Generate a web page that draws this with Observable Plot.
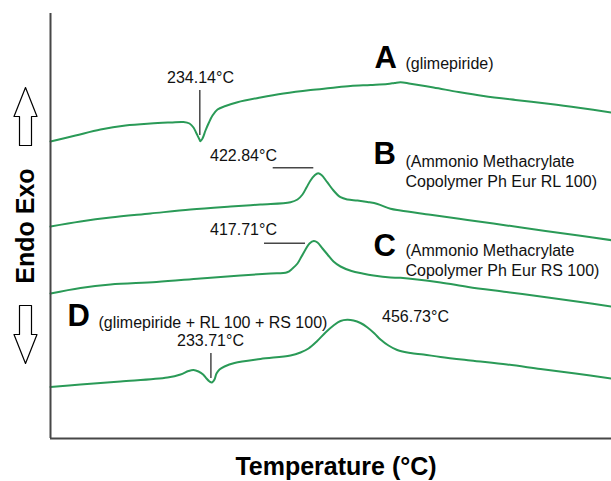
<!DOCTYPE html>
<html>
<head>
<meta charset="utf-8">
<script src="https://cdn.jsdelivr.net/npm/d3@7"></script>
<script src="https://cdn.jsdelivr.net/npm/@observablehq/plot@0.6"></script>
<style>
  html, body { margin: 0; padding: 0; background: #fff; }
  #chart svg { display: block; }
</style>
</head>
<body>
<div id="chart"></div>
<script>
// Temperature (nominal units along the x axis) and heat flow (arbitrary units) for each curve
const tempA = [25, 50, 75, 100, 125, 145, 158, 164, 168, 171, 174, 175, 177, 180, 183, 187, 192, 200, 212, 235, 258, 285, 305, 325, 345, 362, 369, 375, 385, 408, 433, 458, 490, 525, 555, 586];
const flowA = [297, 303, 309, 313, 315, 316, 316.5, 315, 311, 305, 299, 297.3, 300, 308, 315, 323, 329, 332.5, 336.3, 341, 345, 348.5, 350.5, 352.5, 353.5, 354.5, 355.5, 356.3, 354.8, 351, 346.5, 342.5, 338.5, 334.5, 330.5, 326];

const tempB = [25, 55, 85, 125, 165, 205, 235, 265, 272, 277, 281, 285, 289, 292.7, 296, 301.7, 308, 315, 322, 332, 342, 352, 365, 375, 405, 442, 481, 520, 555, 586];
const flowB = [212, 217, 221, 225, 229, 232, 234, 236.3, 239, 244, 251, 258, 263, 265.3, 263.5, 256.3, 248, 241.3, 239, 238, 236.5, 234.5, 229.7, 228, 223.8, 218.6, 213.1, 207.6, 202.7, 198.3];

const tempC = [25, 55, 85, 131, 175, 215, 245, 261.7, 267, 272, 276, 280, 284, 288.3, 292, 297, 302, 308, 315, 326, 337, 348, 365, 375, 415, 442.7, 481, 520.6, 555, 586];
const flowC = [145, 150.5, 154, 156.5, 160, 163, 165, 166.3, 170, 175, 182, 189, 195, 197.5, 196, 190, 184, 177, 172, 167.5, 165, 163, 161, 160.7, 156, 151.5, 146.5, 141.3, 136.5, 132];

const tempD = [25, 55, 95, 142, 155, 163, 168, 173, 177.6, 181, 184, 186.5, 189, 191, 194, 199, 209, 235, 265, 275, 283, 291.7, 300, 308, 315, 321.7, 328, 335, 342, 349, 355, 363, 371.7, 385, 398, 415, 445, 481.6, 515, 550, 586];
const flowD = [51.5, 54, 57, 61, 64, 67.5, 68.5, 67, 64, 60, 57, 56, 59, 65, 69, 72, 75.5, 79.5, 83, 86, 90, 97.5, 106, 113, 117.5, 118.7, 118, 115.5, 111, 105, 99, 93, 88.5, 85.5, 84, 81.5, 78, 74, 69.5, 65, 60];

// Curve names and descriptions
const seriesKeys = ["A", "B", "C", "D"];
const seriesNotes = [
  "(glimepiride)",
  "(Ammonio Methacrylate\nCopolymer Ph Eur RL 100)",
  "(Ammonio Methacrylate\nCopolymer Ph Eur RS 100)",
  "(glimepiride + RL 100 + RS 100)"
];
const keyTemp = [349, 348, 348, 42];
const keyFlow = [380.5, 284, 192, 122];
const noteTemp = [380, 380, 380, 73];
const noteFlow = [376, 267.7, 178.7, 116.3];

// Peak annotations
const peakLabels = ["234.14°C", "422.84°C", "417.71°C", "233.71°C", "456.73°C"];
const peakLabelTemp = [175, 218, 218, 185, 390];
const peakLabelFlow = [361, 283, 209, 98, 122];

// Leader lines: vertical (A, D dips) and horizontal (B, C peaks)
const vTickTemp = [174.3, 185.4];
const vTickFrom = [303, 60];
const vTickTo = [348, 85];
const hTickFlow = [270.7, 195.3];
const hTickFrom = [247.7, 239];
const hTickTo = [288.3, 280];

// Endo / Exo direction arrows (heat-flow position of each arrow's centre)
const arrowFlow = [322, 104];
const arrowTurn = [0, 180];

const curves = [
  {key: "A", t: tempA, f: flowA},
  {key: "B", t: tempB, f: flowB},
  {key: "C", t: tempC, f: flowC},
  {key: "D", t: tempD, f: flowD}
].flatMap(s => s.t.map((t, i) => ({series: s.key, temp: t, flow: s.f[i]})));

const keys = seriesKeys.map((k, i) => ({k, t: keyTemp[i], f: keyFlow[i]}));
const notes = seriesNotes.map((n, i) => ({n, t: noteTemp[i], f: noteFlow[i]}));
const peaks = peakLabels.map((p, i) => ({p, t: peakLabelTemp[i], f: peakLabelFlow[i]}));
const vTicks = vTickTemp.map((t, i) => ({t, y1: vTickFrom[i], y2: vTickTo[i]}));
const hTicks = hTickFlow.map((f, i) => ({f, x1: hTickFrom[i], x2: hTickTo[i]}));
const arrows = arrowFlow.map((f, i) => ({f, r: arrowTurn[i]}));

// hollow block-arrow shape for Plot.vector (points "up" before rotation)
const blockArrow = {
  draw(context, l) {
    const head = l * 0.5, hw = 11.5, sw = 6;
    context.moveTo(-sw, 0);
    context.lineTo(-sw, -l + head);
    context.lineTo(-hw, -l + head);
    context.lineTo(0, -l);
    context.lineTo(hw, -l + head);
    context.lineTo(sw, -l + head);
    context.lineTo(sw, 0);
    context.closePath();
  }
};

const green = "#2a9a57";
const ink = "#474747";
const font = "'Liberation Sans', Arial, sans-serif";

const chart = Plot.plot({
  width: 611,
  height: 481,
  marginLeft: 50,
  marginRight: 0,
  marginTop: 13,
  marginBottom: 43,
  x: {domain: [25, 586], axis: null},
  y: {domain: [0, 425], axis: null},
  style: {fontFamily: font, background: "#fff", overflow: "visible"},
  marks: [
    Plot.line(curves, {x: "temp", y: "flow", z: "series", stroke: green, strokeWidth: 2, curve: "catmull-rom"}),
    Plot.ruleX(vTicks, {x: "t", y1: "y1", y2: "y2", stroke: ink, strokeWidth: 1.5}),
    Plot.ruleY(hTicks, {y: "f", x1: "x1", x2: "x2", stroke: ink, strokeWidth: 1.5}),
    Plot.text(peaks, {x: "t", y: "f", text: "p", fontSize: 16, fill: "#111", textAnchor: "middle"}),
    Plot.text(keys, {x: "t", y: "f", text: "k", fontSize: 31, fontWeight: "bold", fill: "#000", textAnchor: "start"}),
    Plot.text(notes, {x: "t", y: "f", text: "n", fontSize: 16, fill: "#111", textAnchor: "start", lineHeight: 1.2}),
    // axes lines
    Plot.ruleX([25], {y1: 0, y2: 425, stroke: ink, strokeWidth: 2}),
    Plot.ruleY([0], {x1: 25, x2: 586, stroke: ink, strokeWidth: 2}),
    // axis titles
    Plot.text(["Temperature (°C)"], {frameAnchor: "bottom", dx: 5, dy: 28, lineAnchor: "middle", fontSize: 25, fontWeight: "bold", fill: "#000"}),
    Plot.text(["Endo Exo"], {frameAnchor: "left", dx: -25, rotate: -90, textAnchor: "middle", lineAnchor: "middle", fontSize: 25, fontWeight: "bold", fill: "#000"}),
    Plot.vector(arrows, {frameAnchor: "left", dx: -25, y: "f", rotate: "r", length: 58, anchor: "middle", shape: blockArrow, fill: "#fff", stroke: "#000", strokeWidth: 1.2})
  ]
});
document.getElementById("chart").appendChild(chart);
</script>
</body>
</html>
